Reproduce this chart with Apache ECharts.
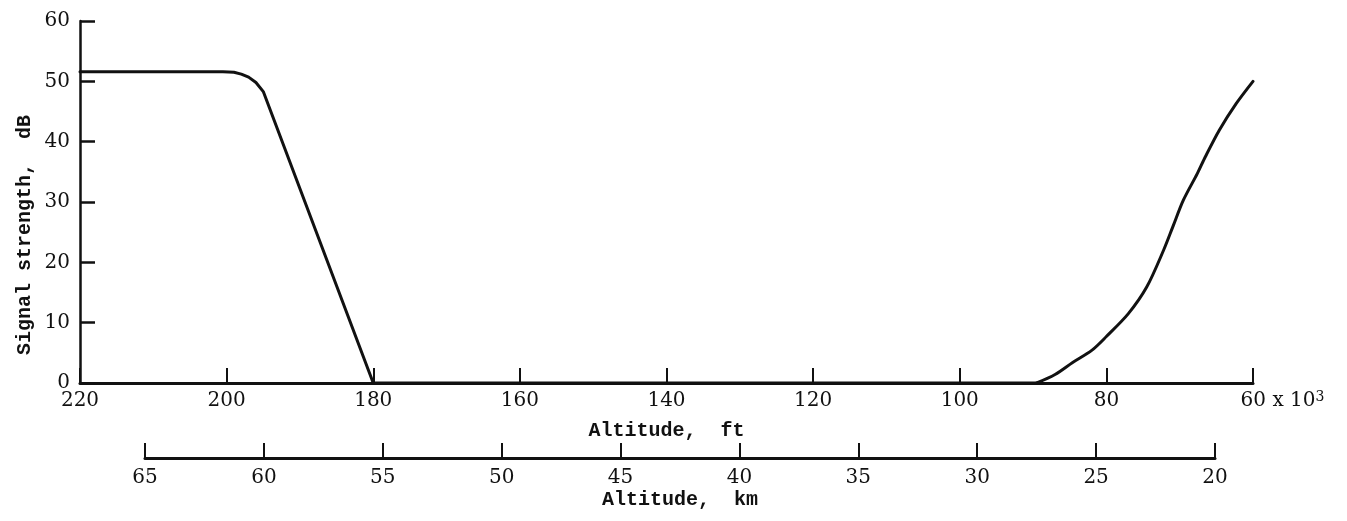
<!DOCTYPE html>
<html>
<head>
<meta charset="utf-8">
<script src="https://cdn.jsdelivr.net/npm/echarts@6/dist/echarts.min.js"></script>
<style>
  html, body { margin: 0; padding: 0; background: #fff; }
  #chart { width: 1347px; height: 521px; }
</style>
</head>
<body>
<div id="chart"></div>
<script>
// Signal strength against altitude (thousands of feet), with a kilometre ruler below.
const altitudeKft = [220, 200.5, 199, 198, 197, 196, 195, 180, 89.5, 87, 84.6, 82, 80, 77, 74.5, 72.2, 70.9, 69.5, 67.6, 66.5, 64.6, 62.3, 60];
const signalDb    = [51.6, 51.6, 51.5, 51.2, 50.7, 49.8, 48.3, 0, 0, 1.4, 3.4, 5.4, 7.7, 11.5, 15.9, 22.0, 26.0, 30.3, 34.7, 37.5, 41.9, 46.3, 50.0];

const ftTicks = { min: 60, max: 220, step: 20 };
const kmTicks = { min: 20, max: 65, step: 5 };
const dbTicks = { min: 0, max: 60, step: 10 };

const serif = 'DejaVu Serif';
const mono = 'Liberation Mono';
const ink = '#111';

const points = altitudeKft.map((a, i) => [a, signalDb[i]]);
// The trace has three pieces: the plateau and fall-off, the dead band along zero, and the recovery.
const fallEnd = altitudeKft.indexOf(180);
const riseStart = altitudeKft.indexOf(89.5);
const pieces = [
  { data: points.slice(0, fallEnd + 1), smooth: false },
  { data: points.slice(fallEnd, riseStart + 1), smooth: false },
  { data: points.slice(riseStart), smooth: 0.3 }
];

const chart = echarts.init(document.getElementById('chart'), null, { renderer: 'canvas' });

chart.setOption({
  backgroundColor: '#fff',
  animation: false,
  grid: [
    { left: 80, right: 94, top: 21, bottom: 138 },
    { left: 145, right: 132, top: 440, bottom: 63 }
  ],
  xAxis: [
    {
      gridIndex: 0,
      type: 'value',
      inverse: true,
      min: ftTicks.min, max: ftTicks.max, interval: ftTicks.step,
      name: 'Altitude,  ft',
      nameLocation: 'middle',
      nameGap: 38,
      nameTextStyle: { fontFamily: mono, fontSize: 20, fontWeight: 'bold', color: ink },
      axisLine: { show: true, onZero: false, lineStyle: { color: ink, width: 3 } },
      axisTick: { show: true, inside: true, length: 15, lineStyle: { color: ink, width: 2 } },
      splitLine: { show: false },
      axisLabel: {
        margin: 7,
        color: ink,
        fontFamily: serif,
        fontSize: 20,
        showMinLabel: true,
        showMaxLabel: true,
        formatter: function (v) {
          return v === ftTicks.min ? '{pad| }{n|' + v + ' x 10}{sup|3}' : '{n|' + v + '}';
        },
        rich: {
          n: { fontFamily: serif, fontSize: 20, color: ink, lineHeight: 22 },
          pad: { width: 59, fontSize: 20, lineHeight: 22 },
          sup: { fontFamily: serif, fontSize: 14, color: ink, lineHeight: 10, verticalAlign: 'top' }
        }
      }
    },
    {
      gridIndex: 1,
      type: 'value',
      inverse: true,
      position: 'bottom',
      min: kmTicks.min, max: kmTicks.max, interval: kmTicks.step,
      name: 'Altitude,  km',
      nameLocation: 'middle',
      nameGap: 32,
      nameTextStyle: { fontFamily: mono, fontSize: 20, fontWeight: 'bold', color: ink },
      axisLine: { show: true, onZero: false, lineStyle: { color: ink, width: 3 } },
      axisTick: { show: true, inside: true, length: 15, lineStyle: { color: ink, width: 2 } },
      splitLine: { show: false },
      axisLabel: { margin: 10, color: ink, fontFamily: serif, fontSize: 20, showMinLabel: true, showMaxLabel: true }
    }
  ],
  yAxis: [
    {
      gridIndex: 0,
      type: 'value',
      min: dbTicks.min, max: dbTicks.max, interval: dbTicks.step,
      axisLine: { show: true, onZero: false, lineStyle: { color: ink, width: 2.5 } },
      axisTick: { show: true, inside: true, length: 15, lineStyle: { color: ink, width: 2.5 } },
      splitLine: { show: false },
      axisLabel: { margin: 10, color: ink, fontFamily: serif, fontSize: 20 }
    },
    {
      gridIndex: 1,
      type: 'value',
      min: 0, max: 1,
      show: false
    }
  ],
  graphic: [
    {
      type: 'text',
      x: 25,
      y: 235,
      rotation: Math.PI / 2,
      style: {
        text: 'Signal strength,  dB',
        fontFamily: mono,
        fontSize: 20,
        fontWeight: 'bold',
        fill: ink,
        align: 'center',
        verticalAlign: 'middle'
      }
    }
  ],
  series: pieces.map(p => ({
    type: 'line',
    xAxisIndex: 0,
    yAxisIndex: 0,
    data: p.data,
    smooth: p.smooth,
    showSymbol: false,
    symbol: 'none',
    clip: false,
    lineStyle: { color: ink, width: 3, join: 'round', cap: 'round' }
  }))
});
</script>
</body>
</html>
